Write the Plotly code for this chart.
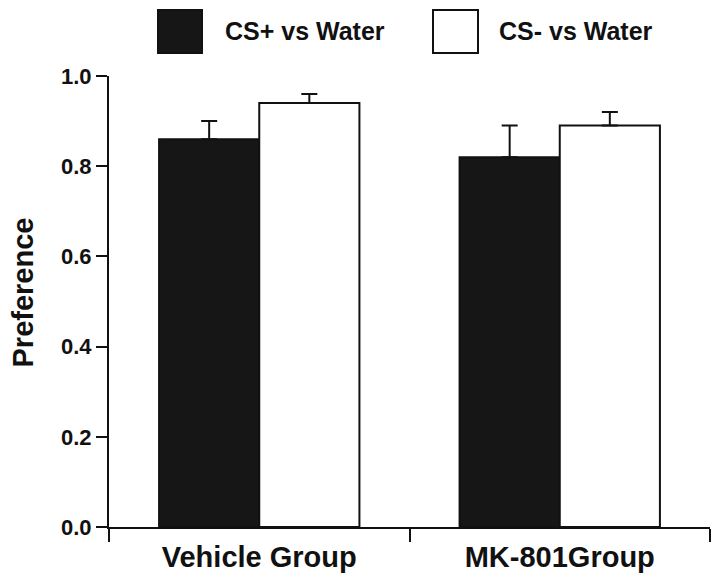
import plotly.graph_objects as go

categories = ["Vehicle Group", "MK-801Group"]
series_names = ["CS+ vs Water", "CS- vs Water"]
cs_plus = [0.86, 0.82]
cs_plus_err = [0.04, 0.07]
cs_minus = [0.94, 0.89]
cs_minus_err = [0.02, 0.03]
y_ticks = [0.0, 0.2, 0.4, 0.6, 0.8, 1.0]
y_tick_labels = ["0.0", "0.2", "0.4", "0.6", "0.8", "1.0"]
y_title = "Preference"

FONT = "Liberation Sans, Arial, Helvetica, sans-serif"
INK = "#111111"

# the page body has an 8px default margin, so the figure is laid out 8px in
OFF = 8
W, H = 723 - 2 * OFF, 583 - 2 * OFF
L, T = 109 - OFF, 76 - OFF
R = W - (710 - OFF)
B = H - (527 - OFF)
pw, ph = W - L - R, H - T - B


def px_x(x):
    return (x - OFF - L) / pw


def px_y(y):
    return (H - B - (y - OFF)) / ph


fig = go.Figure()
fig.add_trace(go.Bar(
    x=categories, y=cs_plus, name=series_names[0],
    marker=dict(color="#161616", line=dict(color=INK, width=2)),
    error_y=dict(type="data", symmetric=False, array=cs_plus_err,
                 arrayminus=[0] * len(cs_plus_err),
                 color=INK, thickness=2, width=8),
))
fig.add_trace(go.Bar(
    x=categories, y=cs_minus, name=series_names[1],
    marker=dict(color="white", line=dict(color=INK, width=2)),
    error_y=dict(type="data", symmetric=False, array=cs_minus_err,
                 arrayminus=[0] * len(cs_minus_err),
                 color=INK, thickness=2, width=8),
))

# legend swatches (large squares) and labels, in page pixel positions
swatches = [
    (158, 202, "#161616", series_names[0], 223),
    (433, 478, "white", series_names[1], 497),
]
shapes = []
annotations = []
for x0, x1, col, label, tx in swatches:
    shapes.append(dict(type="rect", xref="paper", yref="paper",
                       x0=px_x(x0), x1=px_x(x1), y0=px_y(53), y1=px_y(10),
                       fillcolor=col, line=dict(color=INK, width=2)))
    annotations.append(dict(xref="paper", yref="paper", x=px_x(tx), y=px_y(31),
                            xanchor="left", yanchor="middle", showarrow=False,
                            text=label,
                            font=dict(family=FONT, size=25, color=INK, weight="bold")))

# y-axis title, placed as rotated text
annotations.append(dict(xref="paper", yref="paper", x=px_x(22), y=px_y(292.5),
                        xanchor="center", yanchor="middle", showarrow=False,
                        textangle=-90, text=y_title,
                        font=dict(family=FONT, size=29, color=INK, weight="bold")))

fig.update_layout(
    width=W, height=H,
    margin=dict(l=L, r=R, t=T, b=B, pad=0, autoexpand=False),
    paper_bgcolor="white", plot_bgcolor="white",
    barmode="group", bargap=1/3, bargroupgap=0,
    showlegend=False,
    font=dict(family=FONT, color=INK),
    shapes=shapes, annotations=annotations,
    xaxis=dict(
        type="category", showline=True, linecolor=INK, linewidth=2,
        ticks="outside", tickson="boundaries", ticklen=13, tickwidth=2,
        tickcolor=INK, showgrid=False, zeroline=False, automargin=False,
        ticklabelstandoff=3,
        tickfont=dict(family=FONT, size=29, color=INK, weight="bold"),
        range=[-0.5, 1.5],
    ),
    yaxis=dict(
        range=[0, 1.0], showline=True, linecolor=INK, linewidth=2,
        ticks="outside", ticklen=11, tickwidth=2, tickcolor=INK,
        tickvals=y_ticks, ticktext=y_tick_labels, automargin=False,
        showgrid=False, zeroline=False,
        tickfont=dict(family=FONT, size=22, color=INK, weight="bold"),
    ),
)

fig.write_html("out.html")
